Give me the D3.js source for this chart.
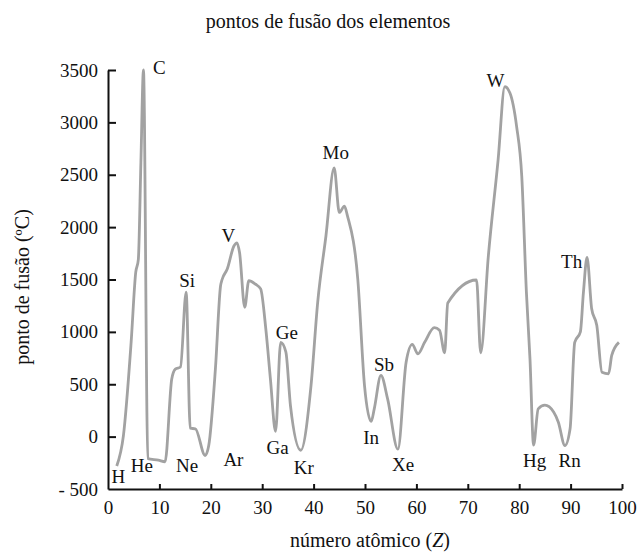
<!DOCTYPE html>
<html>
<head>
<meta charset="utf-8">
<script src="https://cdn.jsdelivr.net/npm/d3@7"></script>
<style>
  body { margin: 0; background: #fff; }
  text { font-family: "Liberation Serif", "Times New Roman", serif; fill: #111; }
  .axis path, .axis line { stroke: #111; stroke-width: 2; }
  .axis text { font-size: 19px; }
  .curve { fill: none; stroke: #a2a2a2; stroke-width: 2.8; stroke-linejoin: round; }
  .sym { font-size: 19px; text-anchor: middle; }
</style>
</head>
<body>
<script>
// atomic number and melting point in degrees C
let atomicNumber = [1.7, 3.0, 4.5, 5.4, 5.9, 6.4, 6.9, 7.75, 9.8, 11.1, 12.4, 13.1, 14.1, 15.2, 16.0, 17.0,
  18.9, 19.6, 20.9, 21.9, 22.2, 23.2, 24.5, 25.1, 25.6, 26.6, 27.4, 28.7, 29.7, 30.7, 31.6, 32.6,
  33.6, 34.6, 35.5, 37.5, 39.5, 40.8, 42.4, 44.0, 45.0, 46.0, 46.6, 48.6, 49.9, 51.2, 51.8, 53.1,
  54.4, 56.4, 58.0, 59.2, 60.3, 61.6, 63.5, 64.5, 65.5, 66.1, 71.7, 72.5, 74.0, 75.9, 77.2, 78.2,
  79.5, 80.5, 81.4, 82.1, 82.8, 83.7, 85.0, 86.7, 87.6, 88.9, 89.9, 90.8, 91.9, 92.5, 93.2, 94.1,
  95.1, 96.1, 97.4, 98.0, 99.4];
let meltingPoint = [-280, 10, 900, 1570, 1690, 2615, 3500, -210, -225, -240, 550, 645, 665, 1380, 80, 75,
  -180, -85, 650, 1440, 1500, 1600, 1820, 1850, 1755, 1235, 1490, 1455, 1410, 1030, 550, 50,
  900, 810, 295, -130, 490, 1285, 1915, 2565, 2140, 2200, 2105, 1500, 490, 145, 265, 585,
  360, -120, 710, 880, 790, 900, 1040, 1015, 800, 1275, 1495, 800, 1725, 2645, 3340, 3280,
  2960, 2485, 1380, 740, -80, 265, 300, 235, 140, -85, 75, 900, 1000, 1380, 1710, 1220,
  1060, 615, 600, 775, 900];

// element labels, anchored in data units
let symbols = ["H", "He", "C", "Ne", "Si", "Ar", "V", "Ga", "Ge", "Kr", "Mo", "In", "Sb", "Xe", "W", "Hg", "Rn", "Th"];
let symbolZ = [2.0, 6.6, 10.0, 15.4, 15.4, 24.4, 23.4, 33.0, 34.8, 38.1, 44.3, 51.2, 53.7, 57.4, 75.4, 83.0, 89.8, 90.2];
let symbolT = [-446, -338, 3464, -338, 1433, -281, 1862, -167, 929, -357, 2652, -71, 631, -329, 3338, -290, -290, 1614];

let xTicks = [0, 10, 20, 30, 40, 50, 60, 70, 80, 90, 100];
let yTicks = [-500, 0, 500, 1000, 1500, 2000, 2500, 3000, 3500];

let title = "pontos de fusão dos elementos";
let xTitle = "número atômico (";
let yTitle = "ponto de fusão (ºC)";

let margin = { top: 70, right: 20, bottom: 67, left: 108 },
  width = 642 - margin.left - margin.right,
  height = 556 - margin.top - margin.bottom;

let svg = d3.select("body").append("svg")
  .attr("width", 642)
  .attr("height", 556);

let g = svg.append("g")
  .attr("transform", "translate(" + margin.left + "," + margin.top + ")");

let x = d3.scaleLinear().domain([0, 100]).range([0, 514]);
let y = d3.scaleLinear().domain([-500, 3500]).range([height, 0]);

// axes, ticks pointing inward
let xaxis = g.append("g")
  .attr("class", "axis")
  .attr("transform", "translate(0," + height + ")")
  .call(d3.axisBottom(x).tickValues(xTicks).tickSize(-5).tickSizeOuter(0).tickPadding(12));
xaxis.selectAll(".tick").filter(function(d) { return d === 0; }).select("line").remove();

let yaxis = g.append("g")
  .attr("class", "axis")
  .call(d3.axisLeft(y).tickValues(yTicks).tickSize(-8).tickSizeOuter(0).tickPadding(10)
    .tickFormat(function(d) { return d < 0 ? "- " + Math.abs(d) : d; }));
yaxis.selectAll(".tick").filter(function(d) { return d === -500; }).select("line").remove();

// the melting point curve
let pts = atomicNumber.map(function(z, i) { return [z, meltingPoint[i]]; });
let line = d3.line()
  .x(function(d) { return x(d[0]); })
  .y(function(d) { return y(d[1]); })
  .curve(d3.curveMonotoneX);

g.append("path")
  .datum(pts)
  .attr("class", "curve")
  .attr("d", line);

// element symbols
g.selectAll(".sym")
  .data(symbols)
  .enter().append("text")
  .attr("class", "sym")
  .attr("x", function(d, i) { return x(symbolZ[i]); })
  .attr("y", function(d, i) { return y(symbolT[i]); })
  .text(function(d) { return d; });

// titles
svg.append("text")
  .attr("x", 328)
  .attr("y", 28)
  .attr("text-anchor", "middle")
  .style("font-size", "20px")
  .text(title);

let xt = svg.append("text")
  .attr("x", 370)
  .attr("y", 547)
  .attr("text-anchor", "middle")
  .style("font-size", "20px");
xt.append("tspan").text(xTitle);
xt.append("tspan").style("font-style", "italic").text("Z");
xt.append("tspan").text(")");

svg.append("text")
  .attr("transform", "translate(29,287) rotate(-90)")
  .attr("text-anchor", "middle")
  .style("font-size", "20px")
  .text(yTitle);
</script>
</body>
</html>
